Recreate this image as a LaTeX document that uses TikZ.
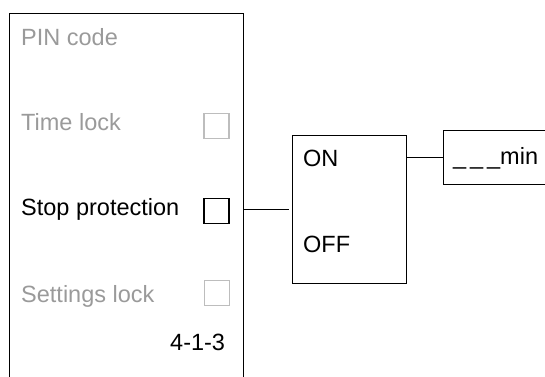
\documentclass[tikz,border=0pt]{standalone}
\usepackage{fontspec}
\setmainfont{Liberation Sans}
\usepackage{xcolor}
\usetikzlibrary{positioning}
\definecolor{dimtext}{HTML}{9A9A9A}
\definecolor{dimbox}{HTML}{BDBDBD}

\begin{document}
\begin{tikzpicture}[
  x=1pt, y=-1pt,
  every node/.style={font=\fontsize{23.5}{28}\selectfont, inner sep=0pt},
  frame/.style={draw, line width=1.1pt, anchor=north west},
  label/.style={anchor=base west},
  dim/.style={label, text=dimtext},
  tick/.style={draw, line width=1.1pt, minimum size=25pt},
  dimtick/.style={tick, draw=dimbox},
  wire/.style={line width=1.1pt}
]
\clip (0,0) rectangle (545,376);

% settings panel
\node[frame, minimum width=234pt, minimum height=400pt] (panel) at (9,13) {};
\node[dim] (pin) at (21,45) {PIN code};
\node[dim] (timelock) at (21,130) {Time lock};
\node[label] (stopprot) at (21,215) {Stop protection};
\node[dim] (setlock) at (21,302) {Settings lock};
\node[label] (page) at (170,350) {4-1-3};
\node[dimtick] (timebox) at (216.5,126) {};
\node[tick] (stopbox) at (216.5,211) {};
\node[dimtick] (setbox) at (217,293) {};

% on/off choice
\node[frame, minimum width=114pt, minimum height=148pt] (onoff) at (292,135) {};
\node[label] (on) at (303,166) {ON};
\node[label] (off) at (303,252) {OFF};

% minutes field
\node[frame, minimum width=130pt, minimum height=54pt] (minbox) at (443,130) {};
\node[label] (minutes) at (453,164) {\_\,\_\,\_min};

\draw[wire, shorten >=3pt] (onoff.west -| panel.east) -- (onoff.west);
\draw[wire] (minbox.west -| onoff.east) -- (minbox.west);
\end{tikzpicture}
\end{document}
